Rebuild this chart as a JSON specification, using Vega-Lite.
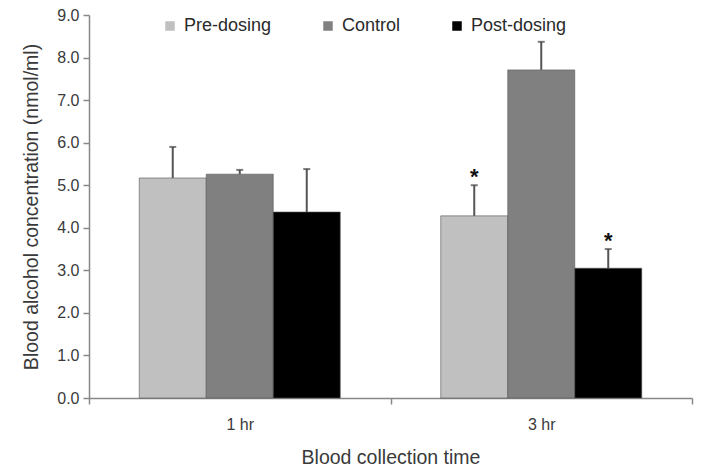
{
  "$schema": "https://vega.github.io/schema/vega-lite/v6.json",
  "width": 603,
  "height": 383,
  "autosize": "none",
  "padding": {"left": 89, "top": 15, "right": 14, "bottom": 70},
  "background": "white",
  "config": {
    "view": {"stroke": null},
    "font": "Liberation Sans",
    "axis": {"domainColor": "#888888", "tickColor": "#888888", "domainWidth": 1.5, "tickWidth": 1.5, "labelColor": "#3a3a3a", "titleColor": "#3a3a3a", "labelFontSize": 16, "titleFontSize": 19.5, "titleFontWeight": "normal", "grid": false}
  },
  "data": {
    "values": [
      {"time": "1 hr", "group": "Pre-dosing", "order": 1, "mean": 5.17, "upper": 5.9, "sig": ""},
      {"time": "1 hr", "group": "Control", "order": 2, "mean": 5.26, "upper": 5.36, "sig": ""},
      {"time": "1 hr", "group": "Post-dosing", "order": 3, "mean": 4.37, "upper": 5.38, "sig": ""},
      {"time": "3 hr", "group": "Pre-dosing", "order": 1, "mean": 4.28, "upper": 5.0, "sig": "*"},
      {"time": "3 hr", "group": "Control", "order": 2, "mean": 7.71, "upper": 8.37, "sig": ""},
      {"time": "3 hr", "group": "Post-dosing", "order": 3, "mean": 3.05, "upper": 3.5, "sig": "*"}
    ]
  },
  "encoding": {
    "x": {"field": "time", "type": "nominal", "scale": {"paddingInner": 0, "paddingOuter": 0},
      "axis": {"title": "Blood collection time", "labelAngle": 0, "tickBand": "extent", "tickSize": 6, "labelPadding": 12, "titlePadding": 16}},
    "xOffset": {"field": "group", "type": "nominal", "sort": ["Pre-dosing", "Control", "Post-dosing"], "scale": {"paddingInner": 0, "paddingOuter": 0.75}}
  },
  "layer": [
    {
      "mark": {"type": "bar", "stroke": "#555555", "strokeWidth": 0.6},
      "encoding": {
        "y": {"field": "mean", "type": "quantitative", "scale": {"domain": [0, 9]},
          "axis": {"title": "Blood alcohol concentration (nmol/ml)", "values": [0,1,2,3,4,5,6,7,8,9], "format": ".1f", "tickSize": 6, "labelPadding": 4, "titlePadding": 15}},
        "color": {"field": "group", "type": "nominal", "sort": ["Pre-dosing", "Control", "Post-dosing"],
          "scale": {"domain": ["Pre-dosing", "Control", "Post-dosing"], "range": ["#c0c0c0", "#808080", "#000000"]},
          "legend": {"title": null, "orient": "none", "direction": "horizontal", "legendX": 72, "legendY": 2, "symbolType": "square", "symbolSize": 90, "symbolStrokeWidth": 0, "labelFontSize": 18, "labelColor": "#2a2a2a", "columnPadding": 47, "labelOffset": 5, "gridAlign": "none"}}
      }
    },
    {
      "mark": {"type": "rule", "color": "#555555", "strokeWidth": 2},
      "encoding": {
        "y": {"field": "mean", "type": "quantitative"},
        "y2": {"field": "upper"}
      }
    },
    {
      "mark": {"type": "tick", "color": "#444444", "thickness": 2, "size": 7},
      "encoding": {
        "y": {"field": "upper", "type": "quantitative"}
      }
    },
    {
      "mark": {"type": "text", "fontSize": 22, "fontWeight": "bold", "color": "#111111", "dy": -8, "baseline": "middle"},
      "encoding": {
        "y": {"field": "upper", "type": "quantitative"},
        "text": {"field": "sig"}
      }
    }
  ]
}
